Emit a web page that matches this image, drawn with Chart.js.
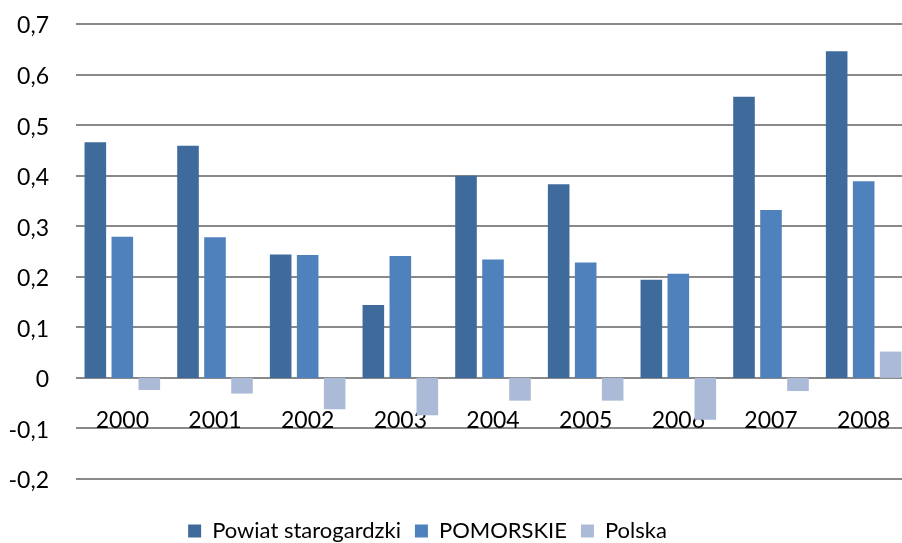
<!DOCTYPE html>
<html>
<head>
<meta charset="utf-8">
<script src="https://cdn.jsdelivr.net/npm/chart.js@4.4.1/dist/chart.umd.min.js"></script>
<style>
  html, body { margin: 0; padding: 0; background: #fff; overflow: hidden; }
  /* the original is cropped: the plot runs a few px past the right edge */
  #wrap { width: 910px; height: 543px; }
</style>
</head>
<body>
<div id="wrap"><canvas id="chart"></canvas></div>
<script>
// data
const years = ['2000', '2001', '2002', '2003', '2004', '2005', '2006', '2007', '2008'];
const powiat = [0.466, 0.459, 0.244, 0.144, 0.400, 0.383, 0.194, 0.556, 0.646];
const pomorskie = [0.279, 0.278, 0.243, 0.241, 0.234, 0.228, 0.206, 0.332, 0.389];
const polska = [-0.024, -0.031, -0.062, -0.074, -0.045, -0.045, -0.083, -0.026, 0.052];
const seriesNames = ['Powiat starogardzki', 'POMORSKIE', 'Polska'];

const FONT = 'Lato, "Open Sans", sans-serif';
const FS = 23;

// moves the legend a bit to the left, like in the original
const legendShift = {
    id: 'legendShift',
    afterLayout(chart) {
        if (chart.legend) chart.legend.left -= 55;
    }
};

function fmt(v) {
    if (Math.abs(v) < 1e-9) return '0';
    return v.toFixed(1).replace('.', ',');
}

new Chart(document.getElementById('chart'), {
    type: 'bar',
    data: {
        labels: years,
        datasets: [
            { label: seriesNames[0], data: powiat, backgroundColor: '#3F6A9C' },
            { label: seriesNames[1], data: pomorskie, backgroundColor: '#4F81BD' },
            { label: seriesNames[2], data: polska, backgroundColor: '#AABAD7' }
        ]
    },
    options: {
        responsive: true,
        maintainAspectRatio: false,
        animation: false,
        datasets: {
            bar: { categoryPercentage: 0.874, barPercentage: 0.8 }
        },
        layout: { padding: { top: 24, right: 0, left: 0, bottom: -9 } },
        plugins: {
            tooltip: { enabled: false },
            legend: {
                position: 'bottom',
                labels: {
                    boxWidth: 13,
                    boxHeight: 13,
                    padding: 14,
                    color: '#000',
                    font: { family: FONT, size: 22 }
                }
            }
        },
        scales: {
            x: {
                position: { y: 0 },
                grid: { display: false, drawTicks: false },
                border: { display: false },
                ticks: { color: '#000', padding: 29, font: { family: FONT, size: FS } },
                afterFit(s) { s.paddingLeft = 0; s.paddingRight = 0; }
            },
            // empty axis, only keeps a gap above the legend
            gap: {
                type: 'linear',
                axis: 'x',
                position: 'bottom',
                grid: { display: false, drawTicks: false },
                border: { display: false },
                ticks: { display: false },
                afterFit(s) { s.height = 27; }
            },
            y: {
                min: -0.2,
                max: 0.7,
                ticks: {
                    stepSize: 0.1,
                    padding: 27,
                    labelOffset: 2,
                    color: '#000',
                    font: { family: FONT, size: FS },
                    callback: (v) => fmt(v)
                },
                grid: { color: '#898989', lineWidth: 2, drawTicks: false },
                border: { display: false },
                afterFit(s) { s.width = 76; s.paddingTop = 0; s.paddingBottom = 0; }
            }
        }
    },
    plugins: [legendShift]
});
</script>
</body>
</html>
